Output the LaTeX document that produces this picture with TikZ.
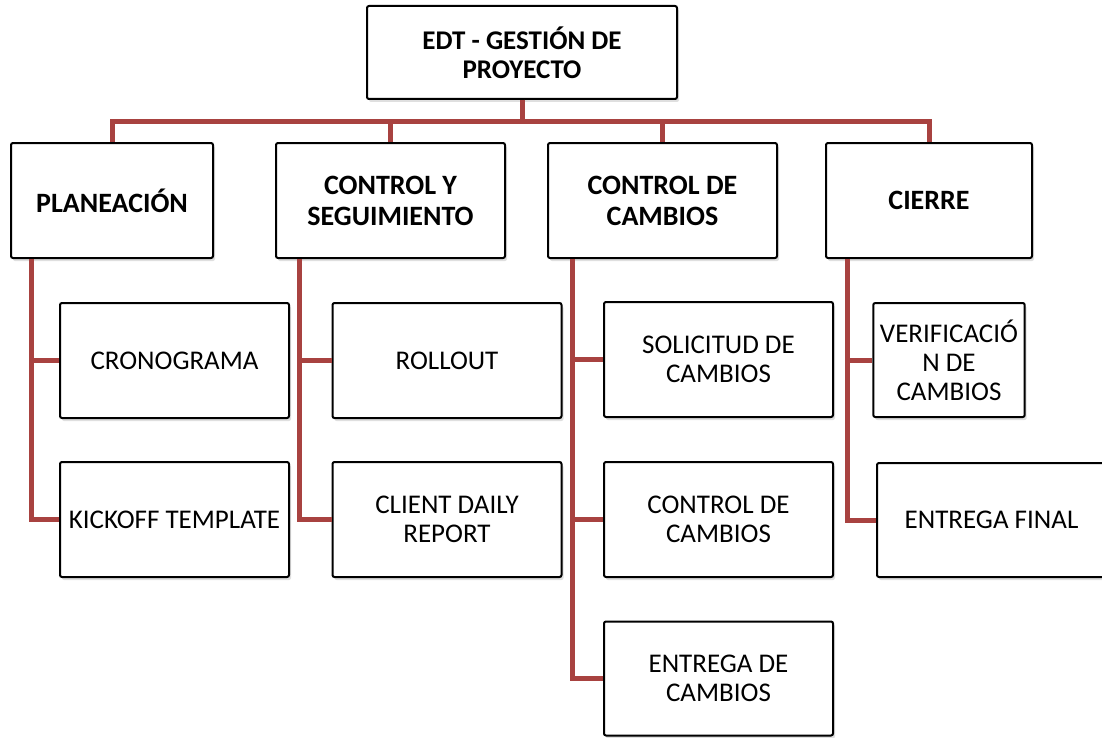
\documentclass[tikz,border=0pt]{standalone}
\usepackage{fontspec}
\setmainfont{Carlito}
\usetikzlibrary{shadows}
\definecolor{edtrojo}{RGB}{168,66,64}
\tikzstyle{caja}=[rectangle,draw=black,line width=1pt,fill=white,rounded corners=1pt,align=center,font=\fontsize{13.5}{14.5}\selectfont,drop shadow={opacity=0.25,shadow xshift=1pt,shadow yshift=-1.5pt}]
\tikzstyle{raiz}=[caja,font=\fontsize{13.5}{14.5}\selectfont\bfseries,minimum width=155pt,minimum height=46.5pt]
\tikzstyle{fase}=[caja,font=\fontsize{14}{15.5}\selectfont\bfseries,minimum width=114.5pt,minimum height=57.5pt]
\tikzstyle{tarea}=[caja,minimum width=114.5pt,minimum height=57.5pt]
\tikzstyle{enlace}=[draw=edtrojo,line width=2.5pt]

\begin{document}
\begin{tikzpicture}[x=0.5pt, y=-0.5pt]
    \useasboundingbox (0,0) rectangle (1102,738);
    \node[raiz] (root) at (522, 52.5) {EDT - GESTIÓN DE\\PROYECTO};
    % fases
    \node[fase, minimum width=101pt] (plan) at (112, 200.5) {PLANEACIÓN};
    \node[fase] (ctrl) at (390.5, 200.5) {CONTROL Y\\SEGUIMIENTO};
    \node[fase] (camb) at (662.5, 200.5) {CONTROL DE\\CAMBIOS};
    \node[fase, minimum width=103pt] (cierre) at (929, 200.5) {CIERRE};
    % entregables
    \node[tarea] (crono) at (174.5, 360.5) {CRONOGRAMA};
    \node[tarea] (kick) at (174.5, 519.5) {KICKOFF TEMPLATE};
    \node[tarea] (roll) at (447, 360.5) {ROLLOUT};
    \node[tarea] (daily) at (447, 519.5) {CLIENT DAILY\\REPORT};
    \node[tarea] (soli) at (718.5, 359.5) {SOLICITUD DE\\CAMBIOS};
    \node[tarea] (ctrlc) at (718.5, 519.5) {CONTROL DE\\CAMBIOS};
    \node[tarea, minimum height=57pt] (entc) at (718.5, 678.5) {ENTREGA DE\\CAMBIOS};
    \node[tarea, minimum width=72pt, minimum height=57pt] (verif) at (949, 360) {VERIFICACIÓ\\N DE\\CAMBIOS};
    \node[tarea, minimum height=57pt] (final) at (991.5, 520) {ENTREGA FINAL};

    \coordinate (bus) at (0, 122);
    \foreach \f in {plan,ctrl,camb,cierre} {
        \draw[enlace] (root.south) |- (bus -| \f.north) -- (\f.north);
    };
    \foreach \f/\t/\d in {plan/crono/10.5, plan/kick/10.5, ctrl/roll/12, ctrl/daily/12,
                          camb/soli/12.5, camb/ctrlc/12.5, camb/entc/12.5,
                          cierre/verif/11, cierre/final/11} {
        \draw[enlace] ([xshift=\d pt]\f.south west) |- (\t.west);
    };
\end{tikzpicture}
\end{document}
